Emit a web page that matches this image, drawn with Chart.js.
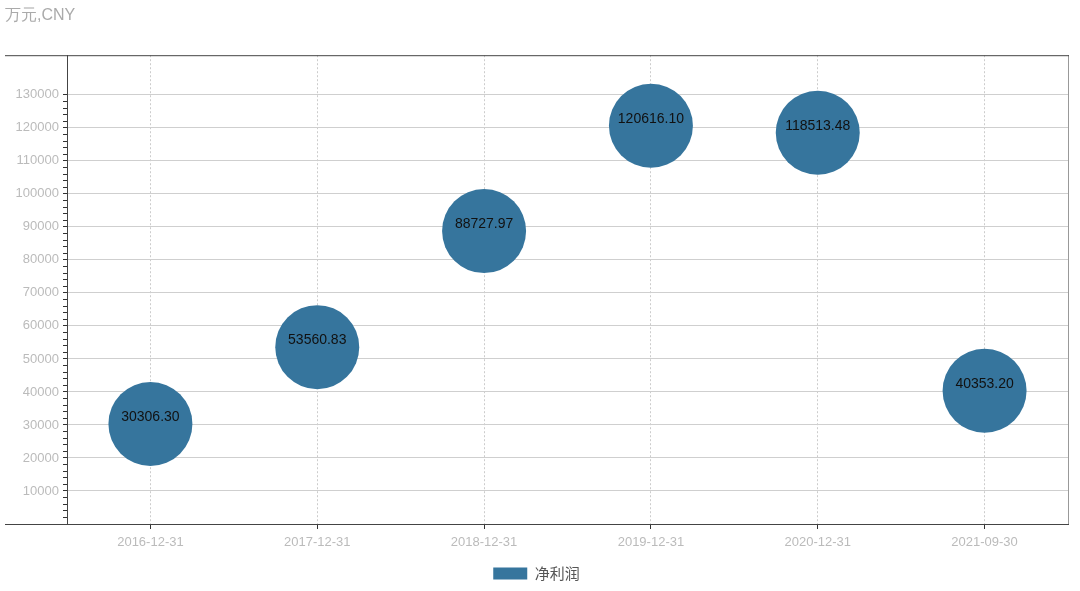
<!DOCTYPE html>
<html><head><meta charset="utf-8">
<script src="https://cdn.jsdelivr.net/npm/chart.js@4/dist/chart.umd.min.js"></script>
<style>html,body{margin:0;padding:0;background:#fff}#wrap{width:1080px;height:591px}</style>
</head><body><div id="wrap"><canvas id="c" width="1080" height="591"></canvas></div>
<script>
const categories = ['2016-12-31','2017-12-31','2018-12-31','2019-12-31','2020-12-31','2021-09-30'];
const netProfit = [30306.30, 53560.83, 88727.97, 120616.10, 118513.48, 40353.20];
const seriesName = '净利润';
const unitLabel = '万元,CNY';
const yMax = 142000;
const yLastTick = 130000;

const isMajor = (v) => {
  const q = v / 10000;
  return Math.abs(q - Math.round(q)) < 1e-6 && v > 1 && v <= yLastTick + 1;
};

const frame = {
  id: 'frame',
  afterDraw(chart) {
    const {ctx, chartArea: a} = chart;
    ctx.save();
    ctx.strokeStyle = '#999'; ctx.lineWidth = 1;
    ctx.beginPath(); ctx.moveTo(a.right + 0.5, a.top); ctx.lineTo(a.right + 0.5, a.bottom); ctx.stroke();
    ctx.strokeStyle = '#444';
    ctx.beginPath(); ctx.moveTo(5, a.top + 0.5); ctx.lineTo(a.right + 1, a.top + 0.5); ctx.stroke();
    ctx.beginPath(); ctx.moveTo(5, a.bottom + 0.5); ctx.lineTo(a.right + 1, a.bottom + 0.5); ctx.stroke();
    const meta = chart.getDatasetMeta(0);
    ctx.fillStyle = '#111';
    ctx.font = '14px "Liberation Sans", Arial, sans-serif';
    ctx.textAlign = 'center'; ctx.textBaseline = 'middle';
    meta.data.forEach((pt, i) => {
      ctx.fillText(netProfit[i].toFixed(2), pt.x, pt.y - 7);
    });
    ctx.restore();
  }
};

new Chart(document.getElementById('c'), {
  type: 'line',
  data: {
    labels: categories,
    datasets: [{
      label: seriesName,
      data: netProfit,
      showLine: false,
      pointRadius: 42,
      pointHoverRadius: 42,
      pointBackgroundColor: '#36759d',
      pointBorderColor: '#36759d',
      backgroundColor: '#36759d',
      borderColor: '#36759d',
      borderWidth: 0,
      clip: false
    }]
  },
  options: {
    responsive: false,
    animation: false,
    layout: { autoPadding: false, padding: { left: 5, right: 12, bottom: 0 } },
    plugins: {
      title: {
        display: true, text: unitLabel, align: 'start', color: '#aaa',
        font: { size: 16, family: '"Liberation Sans", Arial, sans-serif', weight: 'normal' },
        padding: { top: 6, bottom: 30 }
      },
      legend: {
        position: 'bottom',
        labels: {
          boxWidth: 34, boxHeight: 12, color: '#555',
          font: { size: 15, family: '"Noto Sans CJK SC", sans-serif' },
          padding: 10
        }
      },
      tooltip: { enabled: false }
    },
    scales: {
      x: {
        offset: true,
        grid: { offset: false, color: '#ccc', drawTicks: true, tickColor: '#333', tickLength: 5, tickBorderDash: [] },
        border: { display: true, color: '#444', dash: [2, 2] },
        ticks: { color: '#bbb', font: { size: 13, family: '"Liberation Sans", Arial, sans-serif' }, padding: 6 },
        afterFit(s) { s.height = 32; }
      },
      y: {
        min: 0, max: yMax,
        grid: {
          color: (c) => (c.tick && isMajor(c.tick.value)) ? '#cfcfcf' : 'rgba(0,0,0,0)',
          tickColor: (c) => (c.tick && c.tick.value <= yLastTick + 1) ? '#333' : 'rgba(0,0,0,0)',
          tickLength: 4
        },
        border: { display: true, color: '#444' },
        ticks: {
          stepSize: 2000, autoSkip: false, color: '#bbb', padding: 4,
          font: { size: 13, family: '"Liberation Sans", Arial, sans-serif' },
          callback: (v) => isMajor(v) ? String(Math.round(v)) : ''
        },
        afterFit(s) { s.width = 62; }
      }
    }
  },
  plugins: [frame]
});
</script></body></html>
